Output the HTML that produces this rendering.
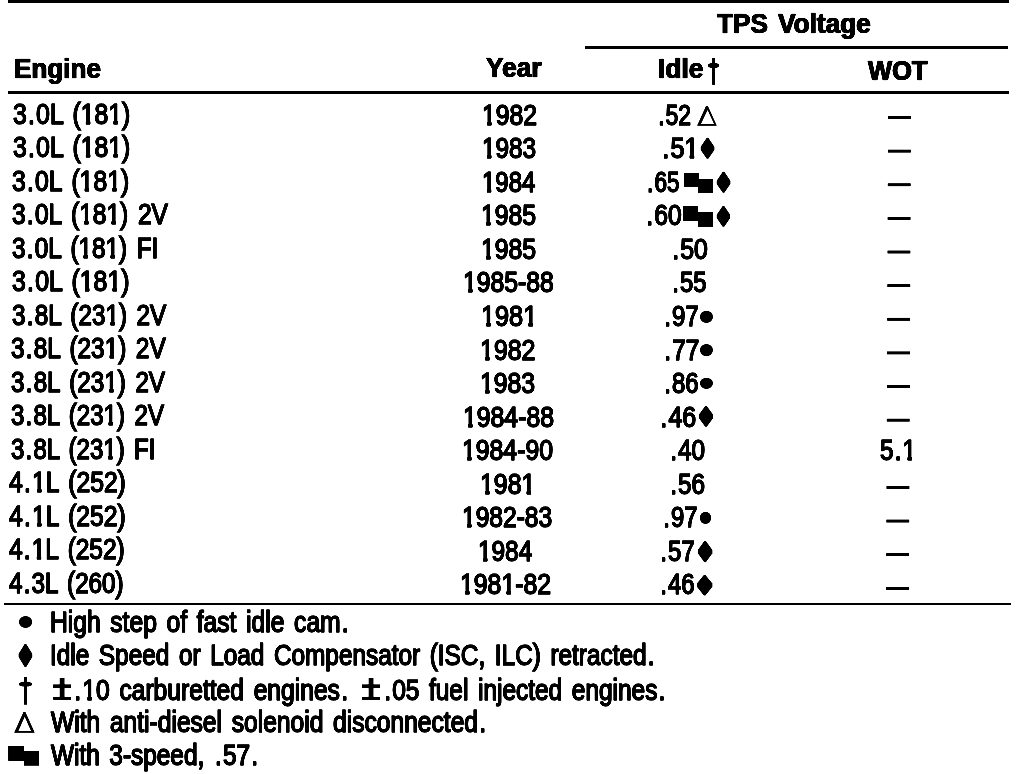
<!DOCTYPE html>
<html><head><meta charset="utf-8"><style>
html,body{margin:0;padding:0;background:#fff}
body{width:1024px;height:774px;position:relative;overflow:hidden;filter:grayscale(1) contrast(1.6)}
.t{position:absolute;white-space:pre;font-family:"Liberation Sans",sans-serif;color:#000;transform-origin:0 0;font-size:30.35px;line-height:30.35px;-webkit-text-stroke:1.4px #000;word-spacing:3.5px;text-shadow:0.6px 0 0 #000,-0.6px 0 0 #000}
.t.b{font-weight:bold;font-size:27.6px;line-height:27.6px;-webkit-text-stroke:0.6px #000;word-spacing:3px}
.r{position:absolute;background:#000}
.d{margin:0 1.5px}
.o{display:inline-block;clip-path:polygon(-0.2em -0.2em,1em -0.2em,1em 0.708em,0.382em 0.708em,0.382em 1.4em,0.209em 1.4em,0.209em 0.708em,-0.2em 0.708em)}
</style></head><body>
<svg style="position:absolute;left:0;top:0" width="1024" height="774" viewBox="0 0 1024 774" fill="#000"><rect x="8.00" y="0.00" width="1001.00" height="3.00"/><rect x="585.00" y="46.00" width="423.00" height="3.00"/><rect x="8.00" y="91.00" width="1001.00" height="3.00"/><rect x="4.00" y="603.00" width="1007.00" height="2.00"/><rect x="888.00" y="116.00" width="23.00" height="3.00"/><rect x="887.86" y="149.63" width="23.00" height="3.00"/><rect x="887.71" y="183.26" width="23.00" height="3.00"/><rect x="887.57" y="216.89" width="23.00" height="3.00"/><rect x="887.43" y="250.52" width="23.00" height="3.00"/><rect x="887.29" y="284.15" width="23.00" height="3.00"/><rect x="887.14" y="317.78" width="23.00" height="3.00"/><rect x="887.00" y="351.41" width="23.00" height="3.00"/><rect x="886.86" y="385.04" width="23.00" height="3.00"/><rect x="886.71" y="418.67" width="23.00" height="3.00"/><rect x="886.43" y="485.93" width="23.00" height="3.00"/><rect x="886.29" y="519.56" width="23.00" height="3.00"/><rect x="886.14" y="553.19" width="23.00" height="3.00"/><rect x="886.00" y="586.82" width="23.00" height="3.00"/><rect x="712.10" y="58.00" width="2.90" height="26.80"/><polygon points="708.00,64.50 710.55,63.00 716.55,63.00 719.00,64.50 719.00,66.50 716.55,68.00 710.55,68.00 708.00,66.50"/><path fill-rule="evenodd" d="M697.00,125.80 L705.95,106.00 L707.95,106.00 L716.90,125.80 Z M701.00,124.00 L707.60,109.90 L714.00,124.00 Z"/><polygon points="706.75,137.80 708.35,137.80 714.40,146.70 714.40,149.90 708.35,158.80 706.75,158.80 700.70,149.90 700.70,146.70"/><rect x="684.00" y="173.00" width="14.80" height="13.80"/><rect x="698.00" y="179.00" width="15.00" height="13.80"/><polygon points="722.75,171.80 724.35,171.80 730.40,180.70 730.40,183.90 724.35,192.80 722.75,192.80 716.70,183.90 716.70,180.70"/><rect x="683.10" y="206.00" width="14.80" height="14.90"/><rect x="697.90" y="212.00" width="15.10" height="14.80"/><polygon points="722.65,206.00 724.25,206.00 730.20,214.80 730.20,218.00 724.25,226.80 722.65,226.80 716.70,218.00 716.70,214.80"/><ellipse cx="706.45" cy="316.90" rx="6.55" ry="6.10"/><ellipse cx="706.45" cy="350.10" rx="6.55" ry="6.10"/><ellipse cx="706.45" cy="383.35" rx="6.55" ry="5.65"/><polygon points="705.20,406.00 706.80,406.00 713.20,414.75 713.20,417.95 706.80,426.70 705.20,426.70 698.80,417.95 698.80,414.75"/><ellipse cx="705.50" cy="517.95" rx="5.70" ry="6.15"/><polygon points="704.30,540.90 705.90,540.90 712.40,549.95 712.40,553.15 705.90,562.20 704.30,562.20 697.80,553.15 697.80,549.95"/><polygon points="703.85,574.90 705.45,574.90 712.40,583.55 712.40,586.75 705.45,595.40 703.85,595.40 696.90,586.75 696.90,583.55"/><ellipse cx="25.55" cy="621.95" rx="6.65" ry="6.05"/><polygon points="24.65,644.00 26.25,644.00 32.30,653.85 32.30,657.05 26.25,666.90 24.65,666.90 18.60,657.05 18.60,653.85"/><rect x="24.00" y="677.10" width="3.00" height="27.60"/><polygon points="19.00,683.10 22.50,681.80 28.50,681.80 31.90,683.10 31.90,685.30 28.50,686.60 22.50,686.60 19.00,685.30"/><rect x="59.70" y="678.00" width="4.80" height="21.80"/><rect x="53.10" y="684.40" width="18.00" height="3.70"/><rect x="53.10" y="696.90" width="18.00" height="2.90"/><rect x="368.65" y="678.00" width="4.80" height="21.80"/><rect x="361.90" y="684.40" width="18.30" height="3.70"/><rect x="361.90" y="696.90" width="18.30" height="2.90"/><path fill-rule="evenodd" d="M14.10,732.70 L23.45,711.90 L25.45,711.90 L34.80,732.70 Z M18.40,731.00 L24.70,716.80 L31.00,731.00 Z"/><rect x="8.20" y="746.00" width="15.70" height="14.90"/><rect x="23.90" y="751.00" width="15.10" height="14.70"/></svg>
<div class="t b" style="left:717.00px;top:10.00px;transform:scaleX(0.9491)">TPS Voltage</div>
<div class="t b" style="left:14.01px;top:55.00px;transform:scaleX(0.9456)">Engine</div>
<div class="t b" style="left:486.40px;top:54.00px;transform:scaleX(0.9534)">Year</div>
<div class="t b" style="left:658.09px;top:55.00px;transform:scaleX(0.9556)">Idle</div>
<div class="t b" style="left:867.90px;top:57.00px;transform:scaleX(0.9246)">WOT</div>
<div class="t" style="left:12.70px;top:99.00px;transform:scaleX(0.8161)">3<span class="d">.</span>0L (<span class="o">1</span>8<span class="o">1</span>)</div>
<div class="t" style="left:482.17px;top:100.00px;transform:scaleX(0.8154)"><span class="o">1</span>982</div>
<div class="t" style="left:657.14px;top:100.00px;transform:scaleX(0.7524)"><span class="d">.</span>52</div>
<div class="t" style="left:12.50px;top:132.00px;transform:scaleX(0.8161)">3<span class="d">.</span>0L (<span class="o">1</span>8<span class="o">1</span>)</div>
<div class="t" style="left:482.10px;top:133.00px;transform:scaleX(0.8015)"><span class="o">1</span>983</div>
<div class="t" style="left:661.11px;top:133.00px;transform:scaleX(0.8297)"><span class="d">.</span>5<span class="o">1</span></div>
<div class="t" style="left:12.30px;top:166.00px;transform:scaleX(0.8147)">3<span class="d">.</span>0L (<span class="o">1</span>8<span class="o">1</span>)</div>
<div class="t" style="left:482.12px;top:167.00px;transform:scaleX(0.7894)"><span class="o">1</span>984</div>
<div class="t" style="left:645.59px;top:167.00px;transform:scaleX(0.7381)"><span class="d">.</span>65</div>
<div class="t" style="left:12.00px;top:199.00px;transform:scaleX(0.8088)">3<span class="d">.</span>0L (<span class="o">1</span>8<span class="o">1</span>) 2V</div>
<div class="t" style="left:480.67px;top:200.00px;transform:scaleX(0.8154)"><span class="o">1</span>985</div>
<div class="t" style="left:644.67px;top:200.00px;transform:scaleX(0.8095)"><span class="d">.</span>60</div>
<div class="t" style="left:12.00px;top:233.00px;transform:scaleX(0.8011)">3<span class="d">.</span>0L (<span class="o">1</span>8<span class="o">1</span>) FI</div>
<div class="t" style="left:480.67px;top:234.00px;transform:scaleX(0.8154)"><span class="o">1</span>985</div>
<div class="t" style="left:670.56px;top:234.00px;transform:scaleX(0.8143)"><span class="d">.</span>50</div>
<div class="t" style="left:11.80px;top:266.00px;transform:scaleX(0.8168)">3<span class="d">.</span>0L (<span class="o">1</span>8<span class="o">1</span>)</div>
<div class="t" style="left:463.47px;top:267.00px;transform:scaleX(0.8138)"><span class="o">1</span>985-88</div>
<div class="t" style="left:670.65px;top:267.00px;transform:scaleX(0.7833)"><span class="d">.</span>55</div>
<div class="t" style="left:11.60px;top:300.00px;transform:scaleX(0.8000)">3<span class="d">.</span>8L (23<span class="o">1</span>) 2V</div>
<div class="t" style="left:481.33px;top:301.00px;transform:scaleX(0.8328)"><span class="o">1</span>98<span class="o">1</span></div>
<div class="t" style="left:663.23px;top:301.00px;transform:scaleX(0.7905)"><span class="d">.</span>97</div>
<div class="t" style="left:11.20px;top:333.00px;transform:scaleX(0.8021)">3<span class="d">.</span>8L (23<span class="o">1</span>) 2V</div>
<div class="t" style="left:480.36px;top:335.00px;transform:scaleX(0.8215)"><span class="o">1</span>982</div>
<div class="t" style="left:662.80px;top:335.00px;transform:scaleX(0.8000)"><span class="d">.</span>77</div>
<div class="t" style="left:10.80px;top:367.00px;transform:scaleX(0.7990)">3<span class="d">.</span>8L (23<span class="o">1</span>) 2V</div>
<div class="t" style="left:480.37px;top:368.00px;transform:scaleX(0.8154)"><span class="o">1</span>983</div>
<div class="t" style="left:662.84px;top:368.00px;transform:scaleX(0.7857)"><span class="d">.</span>86</div>
<div class="t" style="left:10.90px;top:400.00px;transform:scaleX(0.7933)">3<span class="d">.</span>8L (23<span class="o">1</span>) 2V</div>
<div class="t" style="left:462.57px;top:402.00px;transform:scaleX(0.8165)"><span class="o">1</span>984-88</div>
<div class="t" style="left:659.24px;top:402.00px;transform:scaleX(0.8214)"><span class="d">.</span>46</div>
<div class="t" style="left:10.90px;top:434.00px;transform:scaleX(0.7906)">3<span class="d">.</span>8L (23<span class="o">1</span>) FI</div>
<div class="t" style="left:462.37px;top:435.00px;transform:scaleX(0.8165)"><span class="o">1</span>984-90</div>
<div class="t" style="left:669.31px;top:435.00px;transform:scaleX(0.7976)"><span class="d">.</span>40</div>
<div class="t" style="left:9.00px;top:467.00px;transform:scaleX(0.8126)">4<span class="d">.</span><span class="o">1</span>L (252)</div>
<div class="t" style="left:480.36px;top:469.00px;transform:scaleX(0.8197)"><span class="o">1</span>98<span class="o">1</span></div>
<div class="t" style="left:669.31px;top:469.00px;transform:scaleX(0.7976)"><span class="d">.</span>56</div>
<div class="t" style="left:9.00px;top:501.00px;transform:scaleX(0.8112)">4<span class="d">.</span><span class="o">1</span>L (252)</div>
<div class="t" style="left:461.68px;top:502.00px;transform:scaleX(0.8092)"><span class="o">1</span>982-83</div>
<div class="t" style="left:661.55px;top:502.00px;transform:scaleX(0.7833)"><span class="d">.</span>97</div>
<div class="t" style="left:9.00px;top:534.00px;transform:scaleX(0.8042)">4<span class="d">.</span><span class="o">1</span>L (252)</div>
<div class="t" style="left:478.39px;top:536.00px;transform:scaleX(0.8030)"><span class="o">1</span>984</div>
<div class="t" style="left:659.33px;top:536.00px;transform:scaleX(0.7905)"><span class="d">.</span>57</div>
<div class="t" style="left:9.00px;top:568.00px;transform:scaleX(0.7972)">4<span class="d">.</span>3L (260)</div>
<div class="t" style="left:460.27px;top:569.00px;transform:scaleX(0.8174)"><span class="o">1</span>98<span class="o">1</span>-82</div>
<div class="t" style="left:658.94px;top:569.00px;transform:scaleX(0.7857)"><span class="d">.</span>46</div>
<div class="t" style="left:880.10px;top:435.00px;transform:scaleX(0.7974)">5<span class="d">.</span><span class="o">1</span></div>
<div class="t" style="left:50.28px;top:607.00px;transform:scaleX(0.8113)">High step of fast idle cam<span class="d">.</span></div>
<div class="t" style="left:50.29px;top:640.00px;transform:scaleX(0.8029)">Idle Speed or Load Compensator (ISC, ILC) retracted<span class="d">.</span></div>
<div class="t" style="left:73.36px;top:675.00px;transform:scaleX(0.8117)"><span class="d">.</span><span class="o">1</span>0 carburetted engines<span class="d">.</span></div>
<div class="t" style="left:383.18px;top:675.00px;transform:scaleX(0.8052)"><span class="d">.</span>05 fuel injected engines<span class="d">.</span></div>
<div class="t" style="left:50.91px;top:707.00px;transform:scaleX(0.8108)">With anti-diesel solenoid disconnected<span class="d">.</span></div>
<div class="t" style="left:51.20px;top:740.00px;transform:scaleX(0.8035)">With 3-speed, <span class="d">.</span>57<span class="d">.</span></div>
</body></html>
